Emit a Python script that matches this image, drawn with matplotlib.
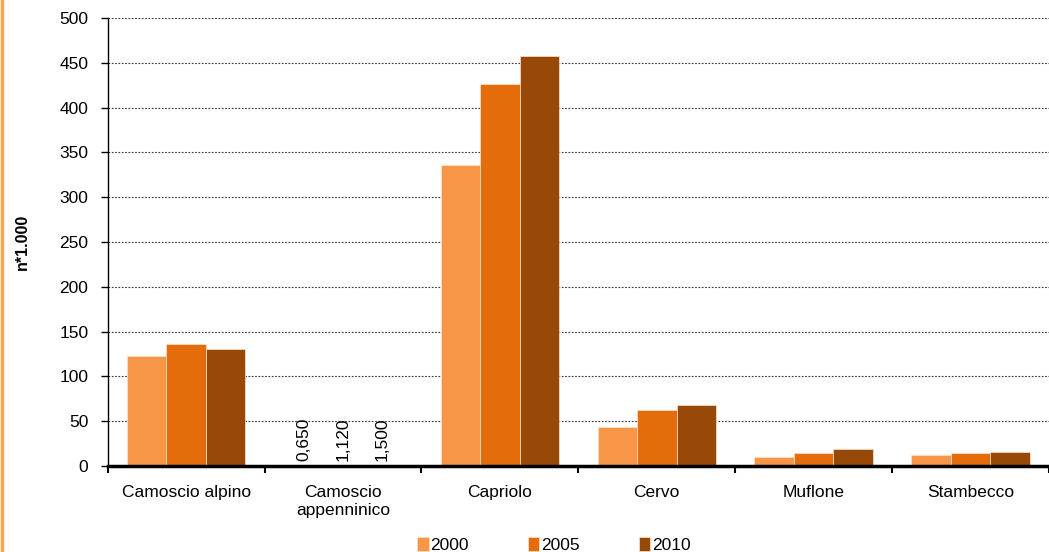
import numpy as np
import matplotlib.pyplot as plt
from matplotlib.lines import Line2D

plt.rcParams['font.family'] = ['Liberation Sans', 'DejaVu Sans']

categories = ["Camoscio alpino", "Camoscio\nappenninico", "Capriolo", "Cervo", "Muflone", "Stambecco"]
years = ["2000", "2005", "2010"]
v2000 = [123, 0.650, 336, 43, 10, 12.6]
v2005 = [136, 1.120, 426, 62, 14.8, 14.4]
v2010 = [131, 1.500, 458, 67.6, 19, 15.6]
appennino_labels = ["0,650", "1,120", "1,500"]
colors = ["#F79646", "#E46C0A", "#984807"]

fig = plt.figure(figsize=(10.49, 5.52), dpi=100)
ax = fig.add_axes([0.1027, 0.1558, 0.8973, 0.8116])

x = np.arange(len(categories))
w = 0.252
series = [v2000, v2005, v2010]
for i, vals in enumerate(series):
    ax.bar(x + (i - 1) * w, vals, w, color=colors[i], label=years[i],
           edgecolor="#FBE3CF", linewidth=0.5, zorder=3)

# labels for the tiny Camoscio appenninico values
for i in range(3):
    ax.text(1 + (i - 1) * w, 6, appennino_labels[i], rotation=90,
            ha="center", va="bottom", fontsize=12.5, zorder=4)

ax.set_xlim(-0.5, len(categories) - 0.5)
ax.set_ylim(0, 500)
ax.set_yticks(np.arange(0, 501, 50))
ax.yaxis.grid(True, linestyle=(0, (1.5, 1.5)), color="#333333", linewidth=0.8, zorder=0)
ax.set_axisbelow(True)

ax.set_xticks(x)
ax.set_xticklabels(categories)
ax.set_xticks(np.arange(-0.5, len(categories)), minor=True)
ax.tick_params(axis="x", which="major", length=0, pad=14, labelsize=12.5)
ax.tick_params(axis="x", which="minor", length=5, width=1.5, direction="out")
ax.tick_params(axis="y", length=5, width=1, pad=9, labelsize=12.5)

for s in ["top", "right"]:
    ax.spines[s].set_visible(False)
ax.spines["left"].set_linewidth(1)
ax.spines["bottom"].set_linewidth(2.5)
ax.spines["bottom"].set_zorder(5)

ax.set_ylabel("n*1.000", fontweight="bold", fontsize=11.5)
ax.yaxis.set_label_coords(-0.083, 0.5)

fig.legend(loc="lower center", bbox_to_anchor=(0.528, -0.03), ncol=3, frameon=False,
           fontsize=12.5, handlelength=0.65, handleheight=0.85, handletextpad=0.1,
           columnspacing=3.4)

fig.add_artist(Line2D([2 / 1049, 2 / 1049], [0, 1], color="#F9A44E", linewidth=2.5))

fig.savefig("out.png", dpi=100)
